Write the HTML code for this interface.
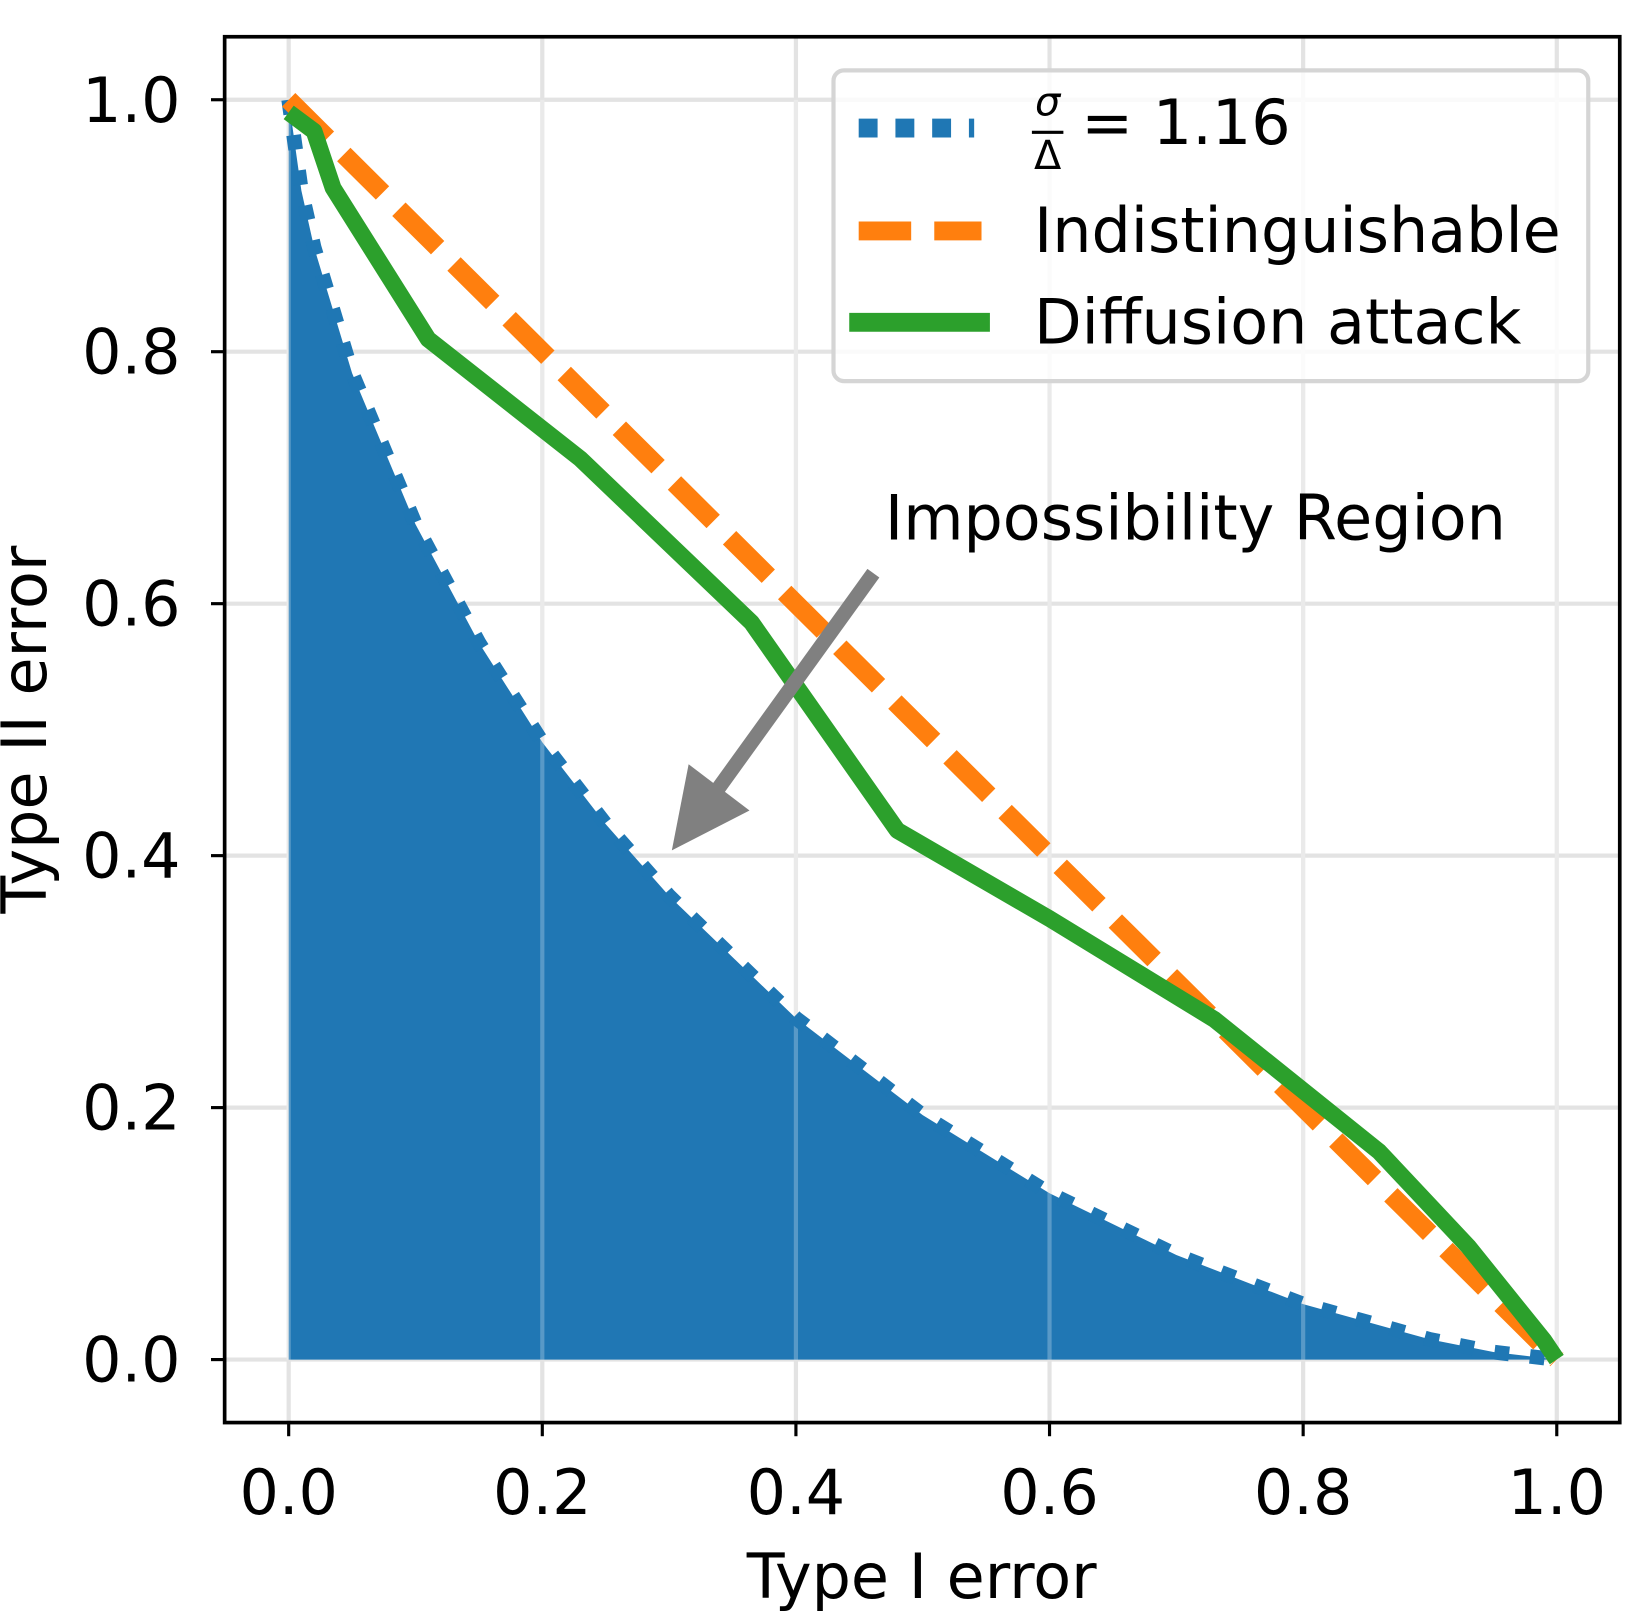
<!DOCTYPE html>
<html><head><meta charset="utf-8"><style>
html,body{margin:0;padding:0;background:#fff;}
svg{display:block;font-family:"DejaVu Sans","Liberation Sans",sans-serif;}
</style></head><body>
<svg id="chart" width="1646" height="1621" viewBox="0 0 1568 1544" preserveAspectRatio="none">
<g id="grid"></g>
<g id="marks"></g>
<g id="axes"></g>
</svg>
<script>
const blueX=[0,0.01,0.02,0.05,0.1,0.15,0.2,0.25,0.3,0.4,0.5,0.6,0.7,0.8,0.9,0.95,1];
const blueY=[1,0.928,0.883,0.783,0.663,0.569,0.49,0.425,0.368,0.271,0.194,0.132,0.083,0.044,0.016,0.006,0];
const orangeX=[0,1];
const orangeY=[1,0];
const greenX=[0,0.02,0.035,0.11,0.23,0.365,0.48,0.6,0.73,0.86,0.93,0.99,1.0];
const greenY=[0.99,0.975,0.93,0.81,0.715,0.585,0.42,0.35,0.27,0.165,0.09,0.015,0];
const ticks=[0,0.2,0.4,0.6,0.8,1.0];
const tickLabels=["0.0","0.2","0.4","0.6","0.8","1.0"];

const NS="http://www.w3.org/2000/svg";
const X=v=>275+v*(1483-275);
const Y=v=>1295-v*(1295-95);
function mk(parent,tag,attrs,text){const e=document.createElementNS(NS,tag);for(const k in attrs)e.setAttribute(k,attrs[k]);if(text!==undefined)e.textContent=text;document.getElementById(parent).appendChild(e);return e;}
const L=214,R=1543,T=35,B=1355;
const FS=59;
ticks.forEach((t,i)=>{
 let g=mk('grid','line',{x1:X(t),x2:X(t),y1:T,y2:B,stroke:'#e3e3e3','stroke-width':4});
 
 
 g=mk('grid','line',{x1:L,x2:R,y1:Y(t),y2:Y(t),stroke:'#e3e3e3','stroke-width':4});
 
 
});
let fp=blueX.map((x,i)=>X(x)+','+Y(blueY[i])).join(' ')+' '+X(1)+','+Y(0)+' '+X(0)+','+Y(0);
let f=mk('marks','polygon',{points:fp,fill:'#2077b4'});


ticks.forEach(t=>{
 let g=mk('marks','line',{x1:X(t),x2:X(t),y1:Y(blueY[0]),y2:Y(0),stroke:'rgba(255,255,255,0.25)','stroke-width':4});
 
 
});
const pts=(xs,ys)=>xs.map((x,i)=>X(x)+','+Y(ys[i])).join(' ');
let b=mk('marks','polyline',{points:pts(blueX,blueY),fill:'none',stroke:'#1f77b4','stroke-width':14,'stroke-dasharray':'14,20'});


let o=mk('marks','polyline',{points:pts(orangeX,orangeY),fill:'none',stroke:'#ff7f0e','stroke-width':18,'stroke-dasharray':'52,22'});


let gr=mk('marks','polyline',{points:pts(greenX,greenY),fill:'none',stroke:'#2ca02c','stroke-width':16,'stroke-linejoin':'round'});


let ar=mk('marks','line',{x1:832,y1:546,x2:672,y2:768,stroke:'#808080','stroke-width':14});


let ah=mk('marks','polygon',{points:'640,810 656,728 714,772',fill:'#808080'});


let at=mk('marks','text',{x:843,y:514,'font-size':FS,fill:'#000'},'Impossibility Region');


let fr=mk('axes','rect',{x:L,y:T,width:R-L,height:B-T,fill:'none',stroke:'#000','stroke-width':3.5});


ticks.forEach((t,i)=>{
 let e=mk('axes','line',{x1:X(t),x2:X(t),y1:B,y2:B+13,stroke:'#000','stroke-width':3});
 
 
 e=mk('axes','text',{x:X(t),y:1442,'font-size':FS,'text-anchor':'middle'},tickLabels[i]);
 
 
 e=mk('axes','line',{x1:L-13,x2:L,y1:Y(t),y2:Y(t),stroke:'#000','stroke-width':3});
 
 
 e=mk('axes','text',{x:172,y:Y(t)+21,'font-size':FS,'text-anchor':'end'},tickLabels[i]);
 
 
});
let xt=mk('axes','text',{x:878,y:1522,'font-size':FS,'text-anchor':'middle'},'Type I error');


let yt=mk('axes','text',{x:0,y:0,'font-size':FS,'text-anchor':'middle',transform:'translate(44,695) rotate(-90)'},'Type II error');


let lg=mk('axes','rect',{x:794,y:67,width:719,height:296,rx:10,fill:'rgba(255,255,255,0.8)',stroke:'#d5d5d5','stroke-width':4});


let l1=mk('axes','line',{x1:818,x2:928,y1:122,y2:122,stroke:'#1f77b4','stroke-width':18,'stroke-dasharray':'18,17'});


let t1=mk('axes','text',{x:998,y:110,'font-size':38,'font-style':'italic','text-anchor':'middle'},'σ');


let fl=mk('axes','line',{x1:983,x2:1013,y1:126,y2:126,stroke:'#000','stroke-width':3});


let t2=mk('axes','text',{x:998,y:161,'font-size':38,'text-anchor':'middle'},'Δ');


let t3=mk('axes','text',{x:1030,y:137,'font-size':FS},'= 1.16');


let l2=mk('axes','line',{x1:818,x2:935,y1:220,y2:220,stroke:'#ff7f0e','stroke-width':18,'stroke-dasharray':'50,22'});


let t4=mk('axes','text',{x:985,y:240,'font-size':FS},'Indistinguishable');


let l3=mk('axes','line',{x1:809,x2:943,y1:307,y2:307,stroke:'#2ca02c','stroke-width':18});


let t5=mk('axes','text',{x:985,y:327,'font-size':FS},'Diffusion attack');


</script>
</body></html>
